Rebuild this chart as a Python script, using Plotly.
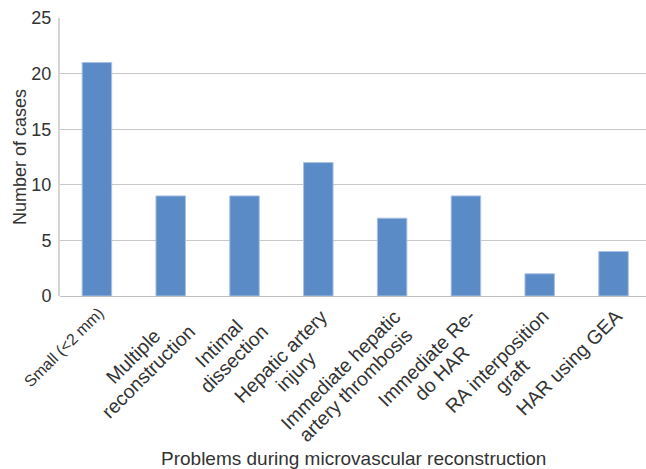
import plotly.graph_objects as go

categories = [
    "Small (<2 mm)",
    "Multiple<br>reconstruction",
    "Intimal<br>dissection",
    "Hepatic artery<br>injury",
    "Immediate hepatic<br>artery thrombosis",
    "Immediate Re-<br>do HAR",
    "RA interposition<br>graft",
    "HAR using GEA",
]
cases = [21, 9, 9, 12, 7, 9, 2, 4]
label_sizes = [16, 19.5, 19.5, 19.5, 19.5, 19.5, 19.5, 19.5]
y_ticks = [0, 5, 10, 15, 20, 25]

TEXT = "#333333"
FONT = "Liberation Sans, Arial, Helvetica, sans-serif"
LINE_FONT = 16.5  # controls the line spacing of the wrapped labels (1.3 em)

fig = go.Figure()
fig.add_trace(go.Bar(
    x=categories, y=cases, width=0.4,
    marker=dict(color="#5B8BC6", line=dict(color="#A9C2E4", width=1)),
    hoverinfo="skip",
))

annotations = []
for cat, fs in zip(categories, label_sizes):
    lines = cat.split("<br>")
    n_lines = len(lines)
    styled = "<br>".join(
        f"<span style='font-size:{fs}px'>{ln}</span>" for ln in lines
    )
    H = 1.3 * fs + (n_lines - 1) * 1.3 * LINE_FONT
    annotations.append(dict(
        x=cat, xref="x", y=0, yref="paper",
        text=styled, showarrow=False, textangle=-45,
        xanchor="right", yanchor="top", align="center",
        xshift=0.707 * H - 5, yshift=-9,
        borderpad=0, borderwidth=0,
        font=dict(size=LINE_FONT if n_lines > 1 else fs, color=TEXT, family=FONT),
    ))
annotations.append(dict(
    x=0.5, xref="paper", y=-0.583, yref="paper",
    text="Problems during microvascular reconstruction", showarrow=False,
    xanchor="center", yanchor="middle",
    font=dict(size=19, color=TEXT, family=FONT),
))

fig.update_layout(
    width=646, height=469,
    margin=dict(l=60, r=0, t=18, b=173, autoexpand=False),
    paper_bgcolor="white", plot_bgcolor="white",
    showlegend=False,
    font=dict(family=FONT, color=TEXT, size=18),
    annotations=annotations,
    xaxis=dict(
        type="category", range=[-0.5, 7.44], showticklabels=False,
        showgrid=False, zeroline=False, showline=False, ticks="",
        fixedrange=True,
    ),
    yaxis=dict(
        range=[0, 25], tickvals=y_ticks, ticktext=[str(v) for v in y_ticks],
        showgrid=True, gridcolor="#C8C8C8", gridwidth=1,
        zeroline=True, zerolinecolor="#C0C0C0", zerolinewidth=1,
        showline=True, linecolor="#D6D6D6", linewidth=2,
        ticks="", ticklabelstandoff=3,
        tickfont=dict(size=18, color=TEXT),
        title=dict(text="Number of cases", font=dict(size=18, color=TEXT), standoff=0),
        automargin=False, fixedrange=True,
    ),
)

fig.write_html("out.html", config={"displayModeBar": False},
               post_script="document.body.style.margin='0';document.body.style.overflow='hidden';")
